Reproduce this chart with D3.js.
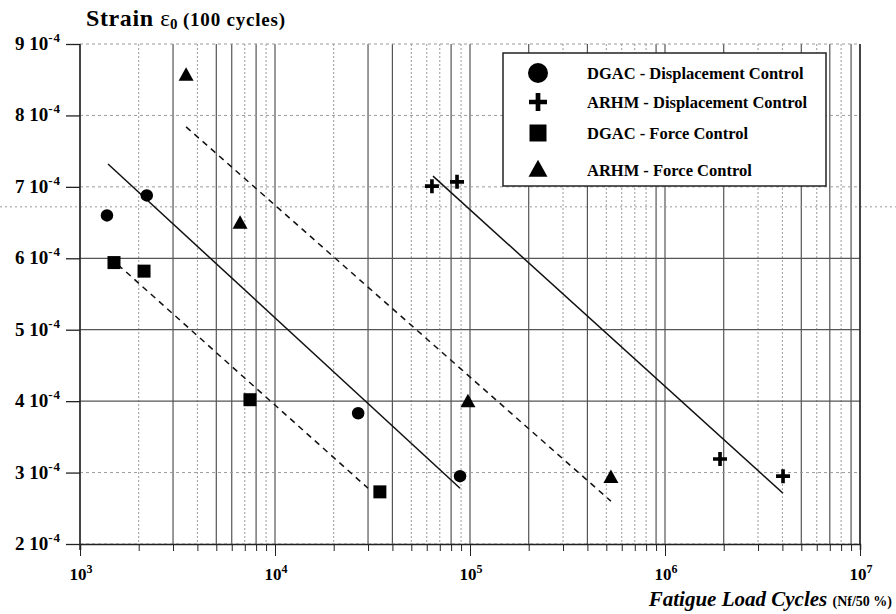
<!DOCTYPE html>
<html>
<head>
<meta charset="utf-8">
<script src="https://cdn.jsdelivr.net/npm/d3@7/dist/d3.min.js"></script>
<style>
  html, body { margin: 0; padding: 0; background: #fff; }
  svg { display: block; }
  text { font-family: "Liberation Serif", "Times New Roman", serif; fill: #000; }
</style>
</head>
<body>
<svg id="chart" width="896" height="614"></svg>
<script>
// Fatigue data: cycles to failure (Nf/50 %) vs initial strain at 100 cycles
const dgacDisplacement = [
  { n: 1375, strain: 6.60e-4 },
  { n: 2200, strain: 6.88e-4 },
  { n: 26700, strain: 3.83e-4 },
  { n: 88900, strain: 2.95e-4 }
];
const arhmDisplacement = [
  { n: 63800, strain: 7.01e-4 },
  { n: 85800, strain: 7.07e-4 },
  { n: 1915000, strain: 3.19e-4 },
  { n: 4030000, strain: 2.95e-4 }
];
const dgacForce = [
  { n: 1494, strain: 5.94e-4 },
  { n: 2130, strain: 5.82e-4 },
  { n: 7440, strain: 4.02e-4 },
  { n: 34500, strain: 2.73e-4 }
];
const arhmForce = [
  { n: 3500, strain: 8.56e-4 },
  { n: 6620, strain: 6.49e-4 },
  { n: 97600, strain: 3.99e-4 },
  { n: 528000, strain: 2.93e-4 }
];

// Regression lines (endpoints in data units)
const fitDgacDisplacement = [{ n: 1392, strain: 7.32e-4 }, { n: 88900, strain: 2.78e-4 }];
const fitDgacForce        = [{ n: 1566, strain: 5.91e-4 }, { n: 30000, strain: 2.78e-4 }];
const fitArhmForce        = [{ n: 3500, strain: 7.84e-4 }, { n: 528000, strain: 2.60e-4 }];
const fitArhmDisplacement = [{ n: 64600, strain: 7.15e-4 }, { n: 4030000, strain: 2.71e-4 }];

// Axis ticks
const yTickMantissas = [2, 3, 4, 5, 6, 7, 8, 9];
const xDecadeExponents = [3, 4, 5, 6, 7];

const legendLabels = [
  "DGAC - Displacement Control",
  "ARHM - Displacement Control",
  "DGAC - Force Control",
  "ARHM - Force Control"
];

// Grid styling
const solidVerticalGrid = [3e3, 5e3, 6e3, 8e3, 3e4, 4e4, 8e4, 2e5, 4e5, 9e5, 2e6, 5e6, 7e6, 9e6];
const solidHorizontalGrid = [6e-4, 5e-4, 4e-4];
const strayRule = 6.72e-4;

const svg = d3.select("#chart");
const plotLeft = 80, plotRight = 860, plotTop = 44, plotBottom = 544;

const x = d3.scaleLog().domain([1e3, 1e7]).range([plotLeft, plotRight]);
const y = d3.scaleLinear().domain([2e-4, 9e-4]).range([plotBottom, plotTop]);

// all log tick values between 10^3 and 10^7
const logTicks = [];
for (let e = 3; e < 7; e++) for (let m = 1; m < 10; m++) logTicks.push(m * Math.pow(10, e));
logTicks.push(1e7);

const isDecade = v => Math.abs(Math.log10(v) - Math.round(Math.log10(v))) < 1e-9;
const isSolidV = v => isDecade(v) || solidVerticalGrid.some(s => Math.abs(s - v) / v < 1e-6);
const isSolidH = v => solidHorizontalGrid.some(s => Math.abs(s - v) < 1e-9);

const grid = svg.append("g");

// vertical grid
grid.selectAll("line.v").data(logTicks).join("line")
  .attr("x1", d => x(d)).attr("x2", d => x(d))
  .attr("y1", plotTop).attr("y2", plotBottom)
  .attr("stroke", d => isSolidV(d) ? "#555" : "#9a9a9a")
  .attr("stroke-width", d => isSolidV(d) ? 1.2 : 1)
  .attr("stroke-dasharray", d => isSolidV(d) ? null : "2,2");

// horizontal grid
const yVals = yTickMantissas.map(m => m * 1e-4);
grid.selectAll("line.h").data(yVals).join("line")
  .attr("x1", plotLeft).attr("x2", plotRight)
  .attr("y1", d => y(d)).attr("y2", d => y(d))
  .attr("stroke", d => isSolidH(d) ? "#555" : "#9a9a9a")
  .attr("stroke-width", d => isSolidH(d) ? 1.2 : 1)
  .attr("stroke-dasharray", d => isSolidH(d) ? null : "3,3");

// faint dotted rule running across the full width
grid.append("line")
  .attr("x1", 0).attr("x2", 896)
  .attr("y1", y(strayRule)).attr("y2", y(strayRule))
  .attr("stroke", "#9a9a9a").attr("stroke-dasharray", "2,3");

// frame: left and right edges
grid.append("line").attr("x1", plotLeft).attr("x2", plotLeft).attr("y1", plotTop).attr("y2", plotBottom + 6)
  .attr("stroke", "#222").attr("stroke-width", 1.4);
grid.append("line").attr("x1", plotRight).attr("x2", plotRight).attr("y1", plotTop).attr("y2", plotBottom)
  .attr("stroke", "#222").attr("stroke-width", 1.4);

// X axis
const xAxis = d3.axisBottom(x)
  .tickValues(logTicks)
  .tickSizeOuter(0)
  .tickSize(6)
  .tickFormat("");
const gx = svg.append("g").attr("transform", `translate(0,${plotBottom})`).call(xAxis);
gx.select(".domain").attr("stroke", "#222").attr("stroke-width", 1.5);
gx.selectAll(".tick line")
  .attr("stroke", "#222")
  .attr("y2", d => isDecade(d) ? 12 : 7);

// decade labels 10^n
const xl = svg.append("g");
xDecadeExponents.forEach(e => {
  const t = xl.append("text")
    .attr("x", x(Math.pow(10, e)) + 1).attr("y", plotBottom + 36)
    .attr("text-anchor", "middle")
    .attr("font-size", 17).attr("font-weight", "bold");
  t.append("tspan").text("10");
  t.append("tspan").attr("dy", -7).attr("font-size", 12).text(String(e));
});

// Y axis
const yAxis = d3.axisLeft(y).tickValues(yVals).tickSize(14).tickSizeOuter(0).tickFormat("");
const gy = svg.append("g").attr("transform", `translate(${plotLeft},0)`).call(yAxis);
gy.select(".domain").remove();
gy.selectAll(".tick line").attr("stroke", "#222").attr("stroke-width", 1.3);

const yl = svg.append("g");
yTickMantissas.forEach(m => {
  const t = yl.append("text")
    .attr("x", 61).attr("y", y(m * 1e-4) + 6)
    .attr("text-anchor", "end")
    .attr("font-size", 19).attr("font-weight", "bold");
  t.append("tspan").text(m + " 10");
  t.append("tspan").attr("dy", -8).attr("font-size", 13).attr("letter-spacing", 1).text("-4");
});

// Regression lines
const line = d3.line().x(d => x(d.n)).y(d => y(d.strain));
const fits = [
  { pts: fitDgacDisplacement, dash: null },
  { pts: fitDgacForce, dash: "6,5" },
  { pts: fitArhmForce, dash: "6,5" },
  { pts: fitArhmDisplacement, dash: null }
];
svg.append("g").selectAll("path").data(fits).join("path")
  .attr("d", d => line(d.pts))
  .attr("fill", "none")
  .attr("stroke", "#111")
  .attr("stroke-width", 1.5)
  .attr("stroke-dasharray", d => d.dash);

// Markers
const markerPath = (type, s) => {
  if (type === "circle") return d3.symbol(d3.symbolCircle, s * s * Math.PI / 4)();
  if (type === "square") return d3.symbol(d3.symbolSquare, s * s)();
  if (type === "triangle") {
    const h = s * 0.9;
    return `M0,${-h * 0.6}L${s / 2},${h * 0.4}L${-s / 2},${h * 0.4}Z`;
  }
  return null;
};

const series = [
  { data: dgacDisplacement, type: "circle" },
  { data: arhmDisplacement, type: "plus" },
  { data: dgacForce, type: "square" },
  { data: arhmForce, type: "triangle" }
];

function drawMarker(g, type, cx, cy, size) {
  if (type === "plus") {
    const h = size / 2;
    g.append("path")
      .attr("d", `M${cx - h},${cy}L${cx + h},${cy}M${cx},${cy - h}L${cx},${cy + h}`)
      .attr("stroke", "#000").attr("stroke-width", size * 0.26).attr("fill", "none");
  } else {
    g.append("path")
      .attr("d", markerPath(type, size))
      .attr("transform", `translate(${cx},${cy})`)
      .attr("fill", "#000");
  }
}

const pointSizes = { circle: 12.5, plus: 14, square: 13, triangle: 15 };
const marks = svg.append("g");
series.forEach(s => {
  s.data.forEach(d => drawMarker(marks, s.type, x(d.n), y(d.strain), pointSizes[s.type]));
});

// Legend
const lg = svg.append("g");
lg.append("rect")
  .attr("x", 503).attr("y", 53).attr("width", 323).attr("height", 133)
  .attr("fill", "#fff").attr("stroke", "#222").attr("stroke-width", 1.5);
const legendRows = [73, 102, 133, 170];
const legendSizes = { circle: 20, plus: 18, square: 17, triangle: 19 };
series.forEach((s, i) => {
  drawMarker(lg, s.type, 538, legendRows[i], legendSizes[s.type]);
  lg.append("text")
    .attr("x", 587).attr("y", legendRows[i] + 6)
    .attr("font-size", 16.5).attr("font-weight", "bold")
    .text(legendLabels[i]);
});

// Axis titles
const yt = svg.append("text").attr("x", 86).attr("y", 26).attr("font-weight", "bold");
yt.append("tspan").attr("font-size", 24).attr("letter-spacing", 0.6).text("Strain ");
yt.append("tspan").attr("font-size", 23).attr("font-weight", "normal").text("ε");
yt.append("tspan").attr("font-size", 15).attr("dy", 3).text("0");
yt.append("tspan").attr("font-size", 19).attr("dy", -3).attr("letter-spacing", 0.8).text(" (100 cycles)");

const xt = svg.append("text").attr("x", 892).attr("y", 606).attr("text-anchor", "end").attr("font-weight", "bold");
xt.append("tspan").attr("font-size", 21).attr("font-style", "italic").text("Fatigue Load Cycles ");
xt.append("tspan").attr("font-size", 14).text("(Nf/50 %)");
</script>
</body>
</html>
